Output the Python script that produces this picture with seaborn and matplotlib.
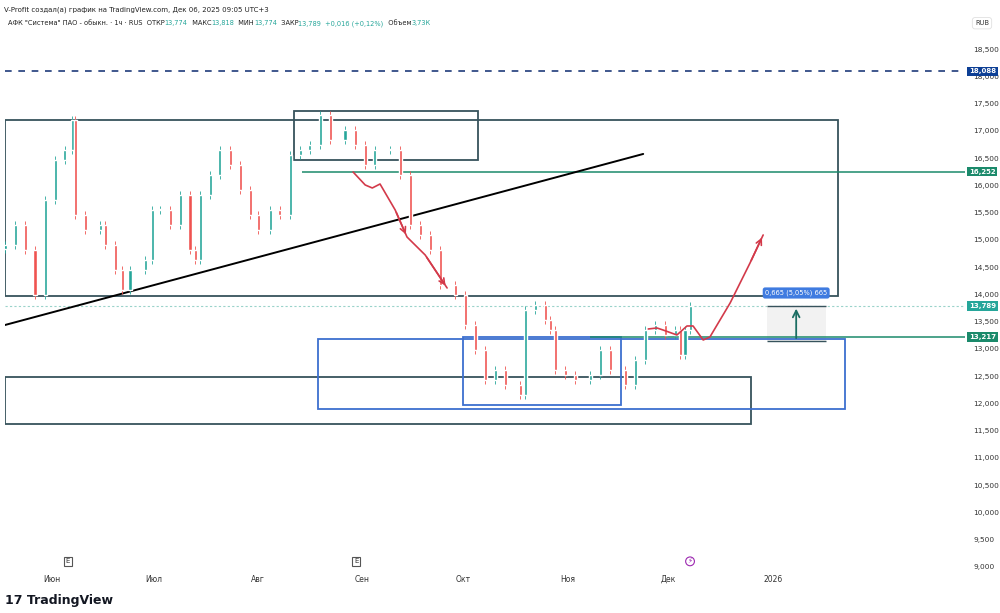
import matplotlib
matplotlib.use("Agg")
import matplotlib.pyplot as plt
import matplotlib.transforms as mtransforms
from matplotlib.patches import Rectangle, FancyArrowPatch
import seaborn as sns
import pandas as pd
import numpy as np

sns.set_style("white")
plt.rcParams['font.family'] = ['DejaVu Sans']

# ---- data (day index from May 20, 2025; prices RUB) ----
days = [-2.0, 1.0, 4.0, 6.9, 9.9, 12.9, 15.8, 17.9, 18.8, 21.8, 26.2, 27.7, 30.7, 32.8, 35.1, 39.6,
        41.7, 44.0, 47.0, 50.0, 52.9, 54.4, 55.9, 58.9, 61.8, 64.8, 67.8, 70.8, 73.1, 76.7, 79.6,
        82.6, 85.6, 88.5, 91.5, 94.5, 98.9, 101.9, 104.9, 107.8, 112.3, 115.3, 118.2, 121.2, 124.2,
        127.2, 131.6, 134.6, 137.6, 140.5, 143.5, 146.5, 150.9, 152.4, 155.4, 158.3, 159.8, 161.3,
        164.2, 167.2, 171.7, 174.6, 177.6, 182.1, 185.0, 188.0, 191.0, 193.9, 196.9, 198.4, 199.8, 201.3]
closes = [14905, 15272, 14814, 13988, 15731, 16464, 16648, 17198, 15456, 15180, 15272, 14905, 14447,
          14080, 14447, 14630, 15547, 15547, 15272, 15822, 14814, 14630, 15822, 16189, 16648, 16373,
          15914, 15456, 15180, 15547, 15456, 16556, 16648, 16740, 17290, 16831, 17014, 16740, 16373,
          16648, 16648, 16189, 15272, 15089, 14814, 14172, 13988, 13438, 12980, 12429, 12613, 12338,
          12154, 13713, 13805, 13530, 13346, 12613, 12521, 12429, 12521, 12980, 12613, 12338, 12796,
          13346, 13438, 13255, 13346, 12888, 13346, 13789]

month_days = [12, 42, 73, 104, 134, 165, 195, 226]
month_labels = ["Июн", "Июл", "Авг", "Сен", "Окт", "Ноя", "Дек", "2026"]
price_ticks = list(range(9000, 19000, 500))

trend_x = [-2.0, 187.4]
trend_y = [13438, 16575]
red1_x = [101.3, 104.9, 107.0, 109.3, 113.8, 117.3, 122.7, 129.2]
red1_y = [16244, 16006, 15951, 16024, 15547, 15052, 14722, 14117]
red2_x = [188.9, 191.5, 193.3, 197.4, 200.4, 202.2, 205.2, 207.2, 213.2, 219.1, 223.0]
red2_y = [13365, 13383, 13346, 13255, 13420, 13420, 13163, 13218, 13842, 14575, 15089]

# boxes: (x0, x1, y0, y1, color)
boxes = [(-2.0, 245.2, 13970, 17198, "#37535c"),
         (83.8, 138.4, 16464, 17363, "#37535c"),
         (-2.0, 219.4, 11622, 12484, "#37535c"),
         (90.9, 247.3, 11898, 13181, "#3d6fcf"),
         (133.9, 180.8, 11970, 13218, "#3d6fcf")]

levels = {"dash": 18088, "g1": 16252, "close": 13789, "g2": 13217}

header_parts = [('АФК "Система" ПАО - обыкн. · 1ч · RUS  ОТКР', "#222"), ("13,774", "#26a69a"),
                ("  МАКС", "#222"), ("13,818", "#26a69a"), ("  МИН", "#222"), ("13,774", "#26a69a"),
                ("  ЗАКР", "#222"), ("13,789  +0,016 (+0,12%)", "#26a69a"), ("  Объем", "#222"),
                ("3,73К", "#26a69a")]

fig = plt.figure(figsize=(10, 6.13), dpi=100)
ax = fig.add_axes([0.005, 1 - 568 / 613, 0.96, (568 - 14) / 613])
xmin, xmax = -2.0, 282.9
ax.set_xlim(xmin, xmax)
ax.set_ylim(8981, 19142)

for x0, x1, y0, y1, c in boxes:
    ax.add_patch(Rectangle((x0, y0), x1 - x0, y1 - y0, fill=False, ec=c, lw=1.3, zorder=2))

ax.axhline(levels["dash"], color="#1f3b7a", lw=1.2, ls=(0, (4, 4)), zorder=2)
ax.hlines(levels["g1"], 86.2, xmax, color="#1b8a6b", lw=1.1, zorder=2)
ax.hlines(levels["g2"], 171.6, xmax, color="#1b8a6b", lw=1.1, zorder=2)
ax.axhline(levels["close"], color="#9ad3ca", lw=0.8, ls=(0, (2, 2)), zorder=1)

sns.lineplot(x=trend_x, y=trend_y, ax=ax, color="black", lw=1.4, zorder=3)

df = pd.DataFrame({"d": days, "c": closes})
df["o"] = df["c"].shift(1).fillna(df["c"].iloc[0] - 80)
for _, r in df.iterrows():
    up = r.c >= r.o
    col = "#26a69a" if up else "#ef5350"
    lo, hi = min(r.o, r.c), max(r.o, r.c)
    ax.vlines(r.d, lo - 70, hi + 70, color=col, lw=0.6, zorder=4)
    ax.bar(r.d, max(hi - lo, 15), bottom=lo, width=0.9, color=col, zorder=4)

sns.lineplot(x=red1_x, y=red1_y, ax=ax, color="#d33a4a", lw=1.2, sort=False, zorder=5)
sns.lineplot(x=red2_x, y=red2_y, ax=ax, color="#d33a4a", lw=1.2, sort=False, zorder=5)
for xs, ys in [(red1_x[4:6], red1_y[4:6]), (red1_x[-2:], red1_y[-2:]), (red2_x[-2:], red2_y[-2:])]:
    ax.add_patch(FancyArrowPatch((xs[0], ys[0]), (xs[1], ys[1]), arrowstyle="->", mutation_scale=10,
                                 color="#d33a4a", lw=1.2, zorder=5))

ax.add_patch(Rectangle((224.2, 13145), 17.5, 13789 - 13145, fc="#f2f2f2", ec="none", zorder=1))
ax.hlines([13789, 13145], 224.2, 241.7, color="#37535c", lw=1.0, zorder=2)
ax.add_patch(FancyArrowPatch((232.8, 13145), (232.8, 13789), arrowstyle="->", mutation_scale=12,
                             color="#1b6e63", lw=1.3, zorder=3))
ax.text(232.8, 14025, "0,665 (5,05%) 665", ha="center", va="center", fontsize=4.8, color="white",
        bbox=dict(boxstyle="round,pad=0.35", fc="#3f7be0", ec="none"), zorder=6)

for s in ax.spines.values():
    s.set_visible(False)
ax.yaxis.tick_right()
ax.set_yticks(price_ticks)
ax.set_yticklabels([f"{v:,}" for v in price_ticks], fontsize=5.3, color="#333333")
ax.set_xticks(month_days)
ax.set_xticklabels(month_labels, fontsize=5.5, color="#333333")
ax.tick_params(length=0, pad=5)
ax.tick_params(axis="y", pad=6)

tr = mtransforms.blended_transform_factory(ax.transAxes, ax.transData)
for val, fc in [(18088, "#0d3f95"), (16252, "#1b8a6b"), (13789, "#26a69a"), (13217, "#1b8a6b")]:
    ax.text(1.004, val, f"{val:,}", transform=tr, fontsize=5.0, color="white", fontweight="bold",
            va="center", ha="left", bbox=dict(boxstyle="square,pad=0.25", fc=fc, ec="none"), zorder=7)

trx = mtransforms.blended_transform_factory(ax.transData, ax.transAxes)
for d in [16.7, 102.2]:
    ax.text(d, 0.012, "E", transform=trx, fontsize=5, ha="center", va="center", color="#333",
            bbox=dict(boxstyle="square,pad=0.25", fc="white", ec="#555", lw=0.8))
ax.text(201.3, 0.012, "⚡", transform=trx, fontsize=5, ha="center", va="center", color="#9c27b0",
        bbox=dict(boxstyle="circle,pad=0.2", fc="white", ec="#9c27b0", lw=0.8))

fig.text(0.004, 0.99, "V-Profit создал(а) график на TradingView.com, Дек 06, 2025 09:05 UTC+3",
         fontsize=5, va="top", color="#222")
renderer = fig.canvas.get_renderer()
xpos = 0.008
for s, c in header_parts:
    t = fig.text(xpos, 0.967, s, fontsize=4.8, va="top", color=c)
    bb = t.get_window_extent(renderer=renderer)
    xpos += bb.width / fig.bbox.width
fig.text(0.982, 0.967, "RUB", fontsize=4.8, va="top", ha="center", color="#333",
         bbox=dict(boxstyle="round,pad=0.4", fc="white", ec="#e0e0e0", lw=0.6))
fig.text(0.005, 0.02, "17 TradingView", fontsize=9, fontweight="bold", va="center", color="#131722")

fig.savefig("out.png", dpi=100, facecolor="white")
